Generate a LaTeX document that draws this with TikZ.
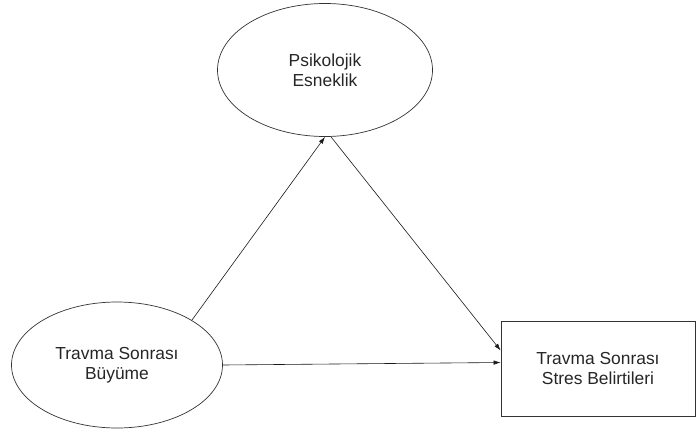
\documentclass[tikz,border=0pt]{standalone}
\usepackage{fontspec}
\setmainfont{Liberation Sans}
\usepackage{tikz}
\usetikzlibrary{shapes.geometric, arrows.meta, calc}

\begin{document}
\begin{tikzpicture}[x=1pt, y=-1pt, every node/.style={align=center, font=\fontsize{17.4}{20}\selectfont, text=black!85},
  oval/.style={ellipse, draw=black!80, line width=0.7pt, inner sep=0pt},
  kutu/.style={rectangle, draw=black!80, line width=0.7pt, inner sep=0pt},
  ok/.style={-{Latex[length=7pt, width=4.5pt]}, line width=0.6pt, draw=black!90}]
\useasboundingbox (0,0) rectangle (698,431);

\node(pe)[oval, minimum width=215pt, minimum height=133pt] at (325,70) {Psikolojik\\Esneklik};
\node(tsb)[oval, minimum width=211pt, minimum height=126pt] at (117,365) {Travma Sonrası\\Büyüme};
\node(tssb)[kutu, minimum width=194pt, minimum height=95pt] at (598,368.5) {Travma Sonrası\\Stres Belirtileri};

\draw[ok] (tsb.north east) -- (pe.south);
\draw[ok] ($(pe.south)+(6,0)$) -- ([yshift=18pt]tssb.west);
\draw[ok] (tsb.east) -- ([yshift=6pt]tssb.west);
\end{tikzpicture}
\end{document}
